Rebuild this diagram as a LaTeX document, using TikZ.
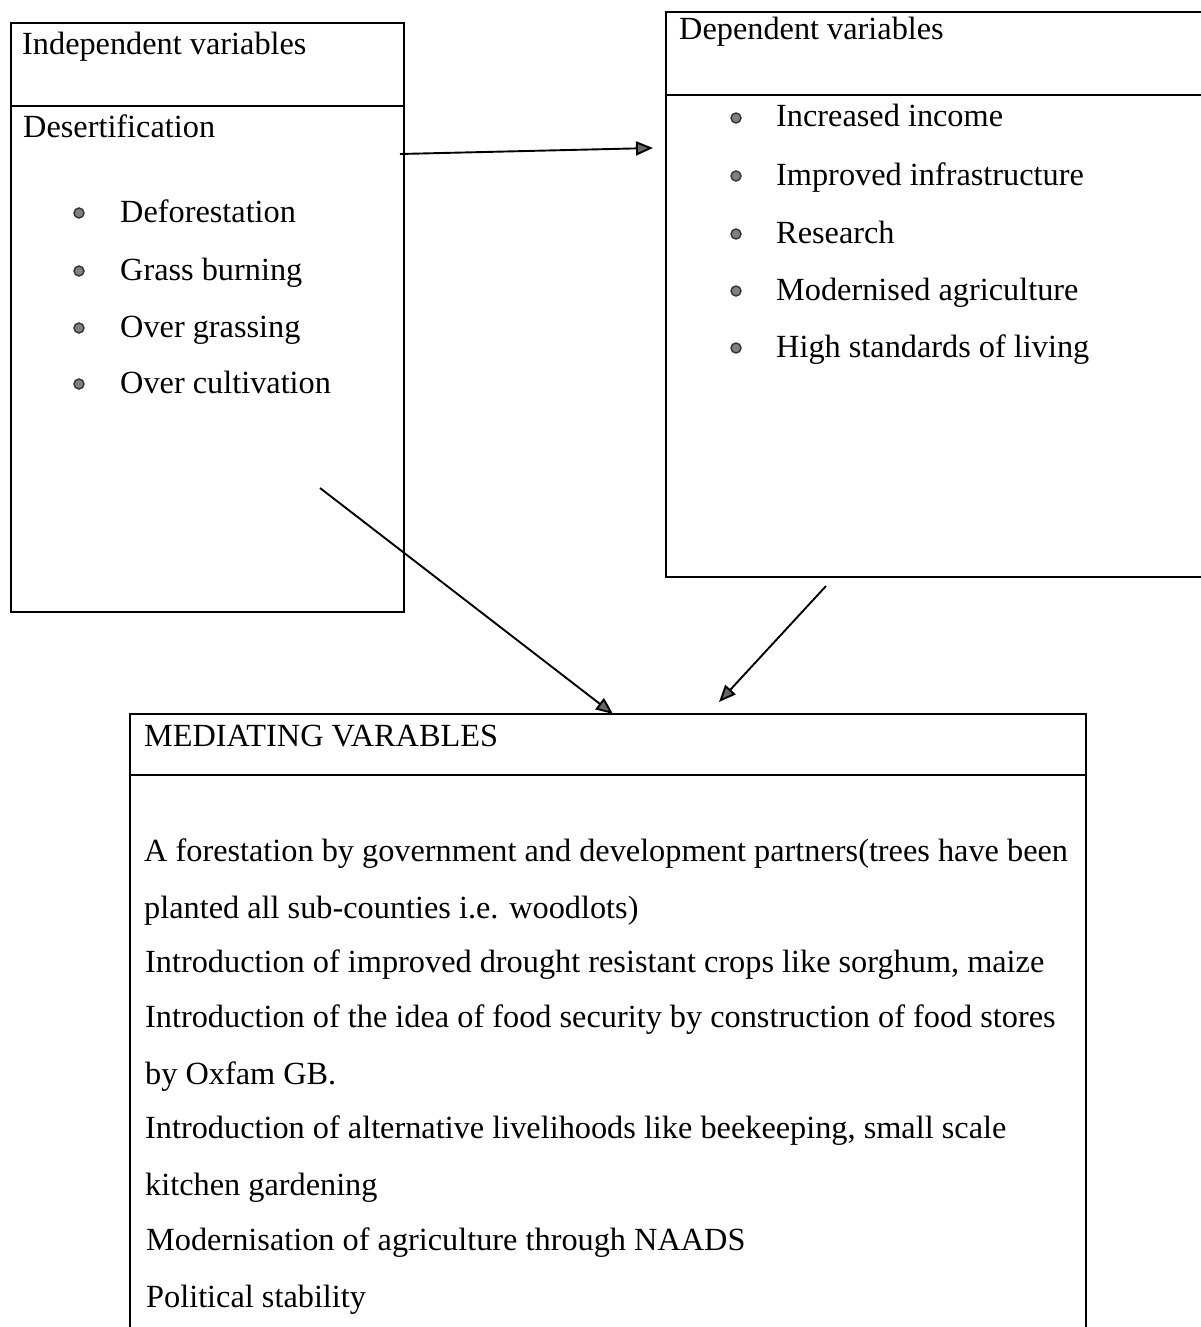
\documentclass[tikz,border=0pt]{standalone}
\usepackage{fontspec}
\setmainfont{Liberation Serif}
\usetikzlibrary{arrows.meta}
\begin{document}
\begin{tikzpicture}[x=1pt,y=-1pt,
  box/.style={draw, line width=1.7pt, rectangle, anchor=north west, inner sep=0pt},
  divider/.style={line width=1.7pt},
  txt/.style={anchor=base west, inner sep=0pt, font=\fontsize{32.3}{38}\selectfont},
  bul/.style={circle, draw=black!80, fill=black!50, line width=1.4pt, inner sep=0pt, minimum size=10pt},
  arr/.style={line width=1.9pt, -{Triangle[length=17pt,width=14pt,fill=black!60]}}]
\useasboundingbox (0,0) rectangle (1201,1327);
\clip (0,0) rectangle (1201,1327);
\fill[white] (0,0) rectangle (1201,1327);

% boxes
\node[box, minimum width=393pt, minimum height=589pt] (indbox) at (10,22) {};
\draw[divider] (10,106) -- (403,106);
\node[box, minimum width=570pt, minimum height=565pt] (depbox) at (665,11) {};
\draw[divider] (665,95) -- (1235,95);
\node[box, minimum width=956pt, minimum height=700pt] (medbox) at (129,713) {};
\draw[divider] (129,775) -- (1085,775);

% independent variables
\node[txt] (indtitle) at (22,55) {Independent variables};
\node[txt] (desert) at (23,138) {Desertification};
\foreach \y/\t [count=\i] in {222/Deforestation, 280/Grass burning, 337/Over grassing, 393/Over cultivation}{
  \node[bul] (ib\i) at (79,\y-9) {};
  \node[txt] (it\i) at (120,\y) {\t};
}

% dependent variables
\node[txt] (deptitle) at (679,40) {Dependent variables};
\foreach \y/\t [count=\i] in {127/Increased income, 185/Improved infrastructure, 243/Research, 300/Modernised agriculture, 357/High standards of living}{
  \node[bul] (db\i) at (736,\y-9) {};
  \node[txt] (dt\i) at (776,\y) {\t};
}

% mediating variables
\node[txt] (medtitle) at (144,746) {MEDIATING VARABLES};
\node[txt] (m1) at (144,861) {A forestation by government and development partners(trees have been};
\node[txt] (m2) at (144,918) {planted all sub-counties i.e. woodlots)};
\node[txt] (m3) at (145,972) {Introduction of improved drought resistant crops like sorghum, maize};
\node[txt] (m4) at (145,1027) {Introduction of the idea of food security by construction of food stores};
\node[txt] (m5) at (145,1084) {by Oxfam GB.};
\node[txt] (m6) at (145,1138) {Introduction of alternative livelihoods like beekeeping, small scale};
\node[txt] (m7) at (145,1195) {kitchen gardening};
\node[txt] (m8) at (146,1250) {Modernisation of agriculture through NAADS};
\node[txt] (m9) at (146,1307) {Political stability};

% connectors
\coordinate (a1s) at (400,154);
\coordinate (a1e) at (653,148);
\coordinate (a2s) at (320,488);
\coordinate (a2e) at (613,714);
\coordinate (a3s) at (826,586);
\coordinate (a3e) at (719,702);
\draw[arr] (a1s) -- (a1e);
\draw[arr] (a2s) -- (a2e);
\draw[arr] (a3s) -- (a3e);
\end{tikzpicture}
\end{document}
